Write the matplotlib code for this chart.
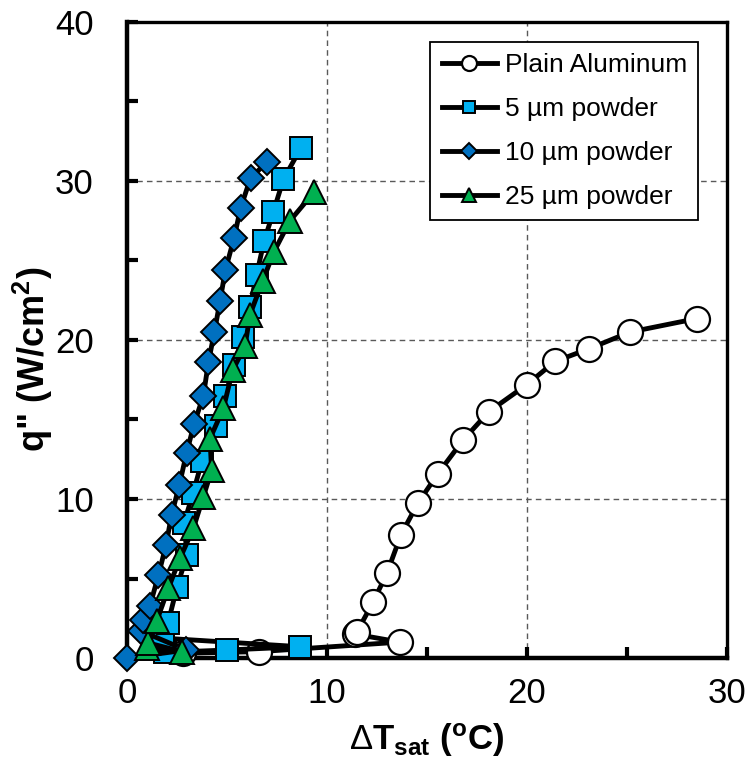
import matplotlib
matplotlib.use("Agg")
import matplotlib.pyplot as plt
from matplotlib.ticker import MultipleLocator, FixedLocator

plt.rcParams["font.family"] = ["Liberation Sans", "DejaVu Sans"]
plt.rcParams["mathtext.fontset"] = "custom"
plt.rcParams["mathtext.rm"] = "Liberation Sans"
plt.rcParams["mathtext.bf"] = "Liberation Sans:bold"
plt.rcParams["mathtext.it"] = "Liberation Sans:italic"

# Boiling curves: wall superheat (deg C) vs heat flux (W/cm^2)
plain_dt = [2.8, 6.6, 13.65, 11.4, 11.5, 12.3, 13.0, 13.7, 14.55, 15.55, 16.8, 18.1,
            20.0, 21.4, 23.1, 25.15, 28.5]
plain_q = [0.3, 0.4, 1.0, 1.5, 1.65, 3.5, 5.35, 7.75, 9.75, 11.6, 13.7, 15.5,
           17.2, 18.65, 19.45, 20.5, 21.35]

p5_dt = [1.9, 4.98, 8.65, 1.8, 2.05, 2.5, 3.0, 2.85, 3.3, 3.75, 4.45, 4.9, 5.37,
         5.78, 6.15, 6.48, 6.85, 7.32, 7.82, 8.68]
p5_q = [0.35, 0.5, 0.71, 1.25, 2.2, 4.45, 6.5, 8.5, 10.35, 12.4, 14.6, 16.5, 18.4,
        20.2, 22.1, 24.1, 26.2, 28.07, 30.1, 32.05]

p10_dt = [0.0, 2.95, 0.7, 0.82, 1.15, 1.57, 1.95, 2.23, 2.62, 2.98, 3.35, 3.82,
          4.07, 4.37, 4.65, 4.92, 5.35, 5.68, 6.18, 7.02]
p10_q = [0.0, 0.5, 1.7, 2.4, 3.3, 5.2, 7.1, 9.0, 10.9, 12.9, 14.7, 16.5,
         18.6, 20.5, 22.45, 24.4, 26.4, 28.3, 30.2, 31.2]

p25_dt = [1.0, 2.75, 1.05, 1.48, 2.07, 2.65, 3.32, 3.82, 4.23, 4.15, 4.82, 5.28,
          5.9, 6.15, 6.78, 7.35, 8.15, 9.35]
p25_q = [0.6, 0.4, 0.95, 2.3, 4.4, 6.27, 8.16, 10.15, 11.8, 13.8, 15.7, 18.1,
         19.6, 21.6, 23.7, 25.55, 27.5, 29.3]

labels = ["Plain Aluminum", "5 \u00b5m powder", "10 \u00b5m powder", "25 \u00b5m powder"]

x_ticks = [0, 10, 20, 30]
y_ticks = [0, 10, 20, 30, 40]

fig = plt.figure(figsize=(7.49, 7.66), dpi=100)
ax = fig.add_axes([127 / 749, 108 / 766, 600 / 749, 636 / 766])

line_kw = dict(color="black", lw=3.5, mec="black", clip_on=False)
ax.plot(plain_dt, plain_q, marker="o", ms=18, mfc="white", mew=1.6,
        label=labels[0], zorder=3, **line_kw)
ax.plot(p5_dt, p5_q, marker="s", ms=15.5, mfc="#00B0F0", mew=1.4,
        label=labels[1], zorder=4, **line_kw)
ax.plot(p10_dt, p10_q, marker="D", ms=13, mfc="#0070C0", mew=1.4,
        label=labels[2], zorder=5, **line_kw)
ax.plot(p25_dt, p25_q, marker="^", ms=17.5, mfc="#00B050", mew=1.4,
        label=labels[3], zorder=6, **line_kw)

ax.set_xlim(0, 30)
ax.set_ylim(0, 40)
ax.xaxis.set_major_locator(FixedLocator(x_ticks))
ax.yaxis.set_major_locator(FixedLocator(y_ticks))
ax.xaxis.set_minor_locator(MultipleLocator(5))
ax.yaxis.set_minor_locator(MultipleLocator(5))

ax.grid(True, which="major", linestyle=(0, (4, 3)), color="#595959", lw=1.0, zorder=1)
ax.set_axisbelow(True)

for side in ["left", "bottom"]:
    ax.spines[side].set_linewidth(3.2)
    ax.spines[side].set_zorder(2.5)
for side in ["top", "right"]:
    ax.spines[side].set_linewidth(2.4)

ax.tick_params(which="both", direction="in", width=3, length=8,
               top=False, right=False, labelsize=25)
ax.tick_params(axis="x", which="major", pad=14)
ax.tick_params(axis="y", which="major", pad=24)

ax.set_ylabel('q" (W/cm$^{\\mathbf{2}}$)', fontsize=26, fontweight="bold")
ax.yaxis.set_label_coords(-0.157, 0.47)
ax.yaxis.label.set_va("center")
ax.set_xlabel(r"$\Delta\mathbf{T}_{\mathbf{sat}}$ ($^{\mathbf{o}}$C)",
              fontsize=25, fontweight="bold")
ax.xaxis.set_label_coords(0.5, -0.13)
ax.xaxis.label.set_va("center")

leg = ax.legend(loc="upper right", bbox_to_anchor=(0.952, 0.969), borderaxespad=0,
                fontsize=19, markerscale=0.6, handlelength=2.1, handletextpad=0.3,
                labelspacing=0.76, borderpad=0.42, fancybox=False, framealpha=1,
                edgecolor="black")
leg.get_frame().set_linewidth(1.3)
leg.set_zorder(10)

fig.savefig("out.png", dpi=100)
